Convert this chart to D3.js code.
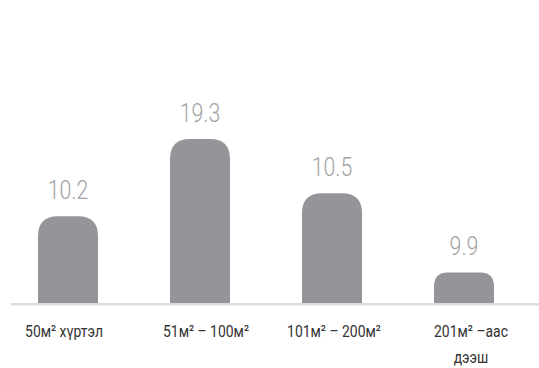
<!DOCTYPE html>
<html>
<head>
<meta charset="utf-8">
<script src="https://cdn.jsdelivr.net/npm/d3@7"></script>
<style>
  html, body { margin: 0; padding: 0; background: #fff; }
  svg { display: block; }
  text { font-family: Roboto, "Liberation Sans", sans-serif; }
</style>
</head>
<body>
<div id="chart"></div>
<script>
// Categories (floor-area groups), with multi-line labels
const categories = ["50м² хүртэл", "51м² – 100м²", "101м² – 200м²", "201м² –аас дээш"];
const categoryLines = [["50м² хүртэл"], ["51м² – 100м²"], ["101м² – 200м²"], ["201м² –аас", "дээш"]];
// Value labels printed above bars
const values = [10.2, 19.3, 10.5, 9.9];
// Bar lengths as drawn in the source picture (not proportional to labels there)
const barLengths = [10.2, 19.3, 12.9, 3.6];

const W = 539, H = 368;
const svg = d3.select("#chart").append("svg").attr("width", W).attr("height", H);

const x = d3.scalePoint().domain(categories).range([2, 530]).padding(0.5);
const y = d3.scaleLinear().domain([0, 20]).range([303, 133]);
const bw = 60;
const squeeze = 0.82;

function roundTopBar(cx, top, bottom, w) {
  const h = bottom - top;
  const r = Math.min(20, h / 2.2, w / 2);
  const l = cx - w / 2, rr = cx + w / 2;
  return `M${l},${bottom} L${l},${top + r} Q${l},${top} ${l + r},${top} L${rr - r},${top} Q${rr},${top} ${rr},${top + r} L${rr},${bottom} Z`;
}

// baseline
svg.append("line")
  .attr("x1", 11).attr("x2", W)
  .attr("y1", y(0) + 1.2).attr("y2", y(0) + 1.2)
  .attr("stroke", "#dcdcdc").attr("stroke-width", 2.5);

// bars
svg.selectAll("path.bar").data(categories).join("path")
  .attr("class", "bar")
  .attr("d", (c, i) => roundTopBar(x(c), y(barLengths[i]), y(0), bw))
  .attr("fill", "#939598");

// value labels
svg.selectAll("g.val").data(categories).join("g")
  .attr("class", "val")
  .attr("transform", (c, i) => `translate(${x(c)},${y(barLengths[i]) - 17}) scale(${squeeze},1)`)
  .append("text")
  .attr("text-anchor", "middle")
  .attr("font-size", 26)
  .attr("font-weight", 300)
  .attr("fill", "#a3a3a5")
  .text((c, i) => values[i].toFixed(1));

// category labels
const catOffset = [-4, 6, 2, 7];
svg.selectAll("g.cat").data(categories).join("g")
  .attr("class", "cat")
  .attr("transform", (c, i) => `translate(${x(c) + catOffset[i]},337) scale(${squeeze},1)`)
  .append("text")
  .attr("text-anchor", "middle")
  .attr("font-size", 17)
  .attr("fill", "#333")
  .each(function(c, i) {
    const t = d3.select(this);
    categoryLines[i].forEach((line, j) => {
      t.append("tspan").attr("x", 0).attr("dy", j === 0 ? 0 : 26.5).text(line);
    });
  });
</script>
</body>
</html>
